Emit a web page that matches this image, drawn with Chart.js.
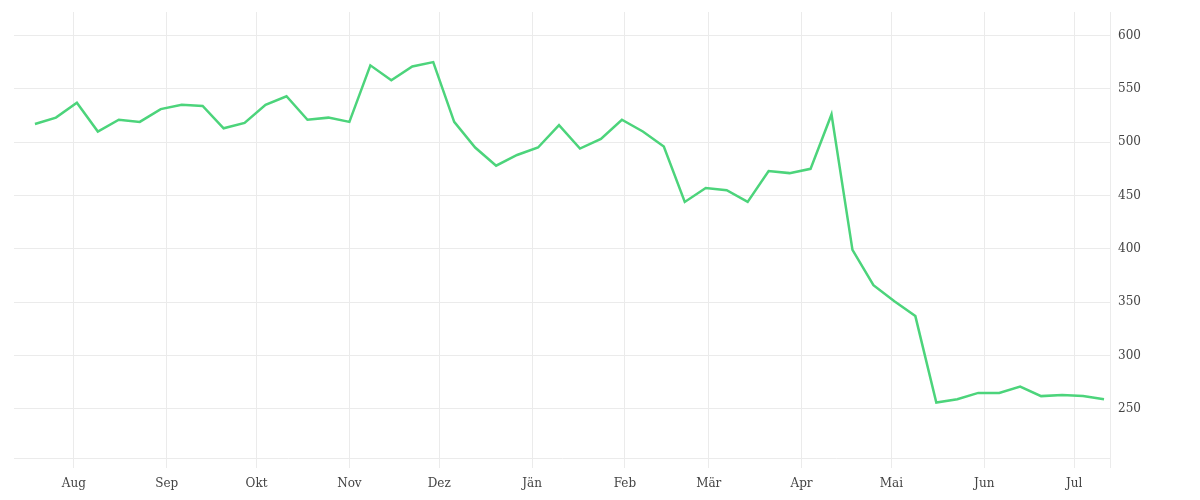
<!DOCTYPE html>
<html>
<head>
<meta charset="utf-8">
<script src="https://cdn.jsdelivr.net/npm/chart.js@4.4.1/dist/chart.umd.min.js"></script>
<style>
  html, body { margin: 0; padding: 0; background: #fff; }
  #wrap { width: 1200px; height: 500px; }
</style>
</head>
<body>
<div id="wrap"><canvas id="c"></canvas></div>
<script>
const dates = [
  '2021-07-19','2021-07-26','2021-08-02','2021-08-09','2021-08-16','2021-08-23','2021-08-30',
  '2021-09-06','2021-09-13','2021-09-20','2021-09-27','2021-10-04','2021-10-11','2021-10-18',
  '2021-10-25','2021-11-01','2021-11-08','2021-11-15','2021-11-22','2021-11-29','2021-12-06',
  '2021-12-13','2021-12-20','2021-12-27','2022-01-03','2022-01-10','2022-01-17','2022-01-24',
  '2022-01-31','2022-02-07','2022-02-14','2022-02-21','2022-02-28','2022-03-07','2022-03-14',
  '2022-03-21','2022-03-28','2022-04-04','2022-04-11','2022-04-18','2022-04-25','2022-05-02',
  '2022-05-09','2022-05-16','2022-05-23','2022-05-30','2022-06-06','2022-06-13','2022-06-20',
  '2022-06-27','2022-07-04','2022-07-11'
];
const values = [
  517, 523, 537, 510, 521, 519, 531, 535, 534, 513, 518, 535, 543,
  521, 523, 519, 572, 558, 571, 575, 519, 495, 478, 488, 495, 516,
  494, 503, 521, 510, 496, 444, 457, 455, 444, 473, 471, 475, 526,
  399, 366, 351, 337, 256, 259, 265, 265, 271, 262, 263, 262, 259
];
const monthTicks = ['2021-08-01','2021-09-01','2021-10-01','2021-11-01','2021-12-01','2022-01-01',
  '2022-02-01','2022-03-01','2022-04-01','2022-05-01','2022-06-01','2022-07-01'];
const monthLabels = ['Aug','Sep','Okt','Nov','Dez','Jän','Feb','Mär','Apr','Mai','Jun','Jul'];
const yTicks = [250, 300, 350, 400, 450, 500, 550, 600];
const xMin = '2021-07-12';
const xMax = '2022-07-13';
const yMin = 204;
const yMax = 622;

const points = dates.map((d, i) => ({ x: Date.parse(d), y: values[i] }));
const labelFor = {};
monthTicks.forEach((d, i) => { labelFor[Date.parse(d)] = monthLabels[i]; });

const gridColor = '#ebebeb';
const font = { family: '"DejaVu Serif", serif', size: 12 };

new Chart(document.getElementById('c'), {
  type: 'line',
  data: {
    datasets: [{
      data: points,
      borderColor: '#4cd47b',
      borderWidth: 2.5,
      pointRadius: 0,
      pointHoverRadius: 0,
      tension: 0,
      fill: false
    }]
  },
  options: {
    responsive: true,
    maintainAspectRatio: false,
    animation: false,
    layout: { padding: { top: 12, left: 14, right: 0, bottom: 0 } },
    plugins: { legend: { display: false }, tooltip: { enabled: false } },
    scales: {
      x: {
        type: 'linear',
        min: Date.parse(xMin),
        max: Date.parse(xMax),
        afterBuildTicks: (axis) => {
          axis.ticks = monthTicks.map(d => ({ value: Date.parse(d) }))
            .concat([{ value: Date.parse(xMax) }]);
        },
        afterFit: (axis) => { axis.height = 42; axis.paddingLeft = 0; axis.paddingRight = 0; },
        ticks: {
          autoSkip: false,
          maxRotation: 0,
          color: '#444',
          font: font,
          padding: 9,
          callback: (v) => labelFor[v] || ''
        },
        grid: { color: gridColor, lineWidth: 1, drawTicks: true, tickLength: 10 },
        border: { display: true, color: gridColor }
      },
      y: {
        position: 'right',
        min: yMin,
        max: yMax,
        afterBuildTicks: (axis) => { axis.ticks = yTicks.map(v => ({ value: v })); },
        afterFit: (axis) => { axis.width = 90; axis.paddingTop = 0; axis.paddingBottom = 0; },
        ticks: { color: '#444', font: font, padding: 8 },
        grid: { color: gridColor, lineWidth: 1, drawTicks: false },
        border: { display: true, color: gridColor }
      }
    }
  }
});
</script>
</body>
</html>
